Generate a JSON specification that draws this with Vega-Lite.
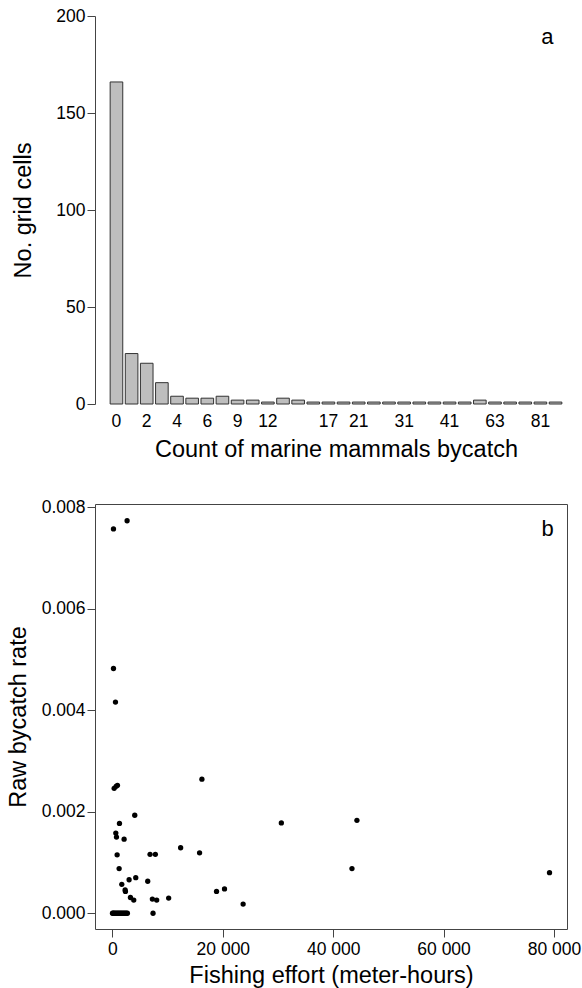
{
  "$schema": "https://vega.github.io/schema/vega-lite/v6.json",
  "background": "white",
  "padding": {"left": 5, "top": 7, "right": 0, "bottom": 0},
  "spacing": 36,
  "config": {
    "font": "Liberation Sans",
    "view": {"stroke": null},
    "axis": {
      "grid": false,
      "labelFont": "Liberation Sans",
      "titleFont": "Liberation Sans",
      "labelColor": "#000",
      "titleColor": "#000",
      "titleFontWeight": "normal",
      "labelFontSize": 17.5,
      "titleFontSize": 23.5,
      "domainColor": "#444",
      "tickColor": "#444",
      "domainWidth": 1,
      "tickWidth": 1
    }
  },
  "vconcat": [
    {
      "width": 482,
      "height": 388,
      "layer": [
        {
          "data": {
            "values": [
              {"count": 0, "cells": 166},
              {"count": 1, "cells": 26},
              {"count": 2, "cells": 21},
              {"count": 3, "cells": 11},
              {"count": 4, "cells": 4},
              {"count": 5, "cells": 3},
              {"count": 6, "cells": 3},
              {"count": 7, "cells": 4},
              {"count": 9, "cells": 2},
              {"count": 10, "cells": 2},
              {"count": 12, "cells": 1},
              {"count": 13, "cells": 3},
              {"count": 14, "cells": 2},
              {"count": 15, "cells": 1},
              {"count": 17, "cells": 1},
              {"count": 19, "cells": 1},
              {"count": 21, "cells": 1},
              {"count": 24, "cells": 1},
              {"count": 27, "cells": 1},
              {"count": 31, "cells": 1},
              {"count": 35, "cells": 1},
              {"count": 38, "cells": 1},
              {"count": 41, "cells": 1},
              {"count": 47, "cells": 1},
              {"count": 55, "cells": 2},
              {"count": 63, "cells": 1},
              {"count": 70, "cells": 1},
              {"count": 76, "cells": 1},
              {"count": 81, "cells": 1},
              {"count": 92, "cells": 1}
            ]
          },
          "mark": {"type": "bar", "fill": "#bebebe", "stroke": "#333", "strokeWidth": 1},
          "encoding": {
            "x": {
              "field": "count",
              "type": "ordinal",
              "scale": {"paddingInner": 0.1667, "paddingOuter": 1.224},
              "axis": {
                "values": [0, 2, 4, 6, 9, 12, 17, 21, 31, 41, 63, 81],
                "labelAngle": 0,
                "domain": false,
                "ticks": false,
                "tickSize": 0,
                "labelPadding": 8,
                "title": "Count of marine mammals bycatch",
                "titlePadding": 8
              }
            },
            "y": {
              "field": "cells",
              "type": "quantitative",
              "scale": {"domain": [0, 200], "nice": false},
              "axis": {
                "values": [0, 50, 100, 150, 200],
                "title": "No. grid cells",
                "tickSize": 8,
                "labelPadding": 2,
                "titlePadding": 20
              }
            }
          }
        },
        {
          "data": {"values": [{}]},
          "mark": {"type": "text", "text": "a", "fontSize": 22, "dx": 7, "color": "#000"},
          "encoding": {
            "x": {"datum": 81, "type": "ordinal"},
            "y": {"datum": 189, "type": "quantitative"}
          }
        }
      ]
    },
    {
      "width": 472,
      "height": 425,
      "view": {"stroke": "#444", "strokeWidth": 1},
      "layer": [
        {
          "data": {
            "values": [
              {"effort": 181, "rate": 0.00757},
              {"effort": 2650, "rate": 0.00773},
              {"effort": 181, "rate": 0.00482},
              {"effort": 542, "rate": 0.00416},
              {"effort": 301, "rate": 0.00246},
              {"effort": 660, "rate": 0.0025},
              {"effort": 900, "rate": 0.00252},
              {"effort": 1265, "rate": 0.00177},
              {"effort": 4036, "rate": 0.00193},
              {"effort": 16205, "rate": 0.00264},
              {"effort": 30600, "rate": 0.00178},
              {"effort": 44300, "rate": 0.00183},
              {"effort": 43400, "rate": 0.00088},
              {"effort": 79200, "rate": 0.0008},
              {"effort": 602, "rate": 0.00158},
              {"effort": 723, "rate": 0.0015},
              {"effort": 2108, "rate": 0.00146},
              {"effort": 843, "rate": 0.00115},
              {"effort": 6807, "rate": 0.00116},
              {"effort": 7771, "rate": 0.00116},
              {"effort": 12349, "rate": 0.00129},
              {"effort": 15783, "rate": 0.00119},
              {"effort": 1205, "rate": 0.00088},
              {"effort": 1687, "rate": 0.00057},
              {"effort": 2289, "rate": 0.00046},
              {"effort": 2350, "rate": 0.00043},
              {"effort": 3012, "rate": 0.00066},
              {"effort": 4217, "rate": 0.0007},
              {"effort": 6386, "rate": 0.00063},
              {"effort": 3253, "rate": 0.00031},
              {"effort": 3855, "rate": 0.00026},
              {"effort": 7229, "rate": 0.00028},
              {"effort": 8012, "rate": 0.00026},
              {"effort": 10181, "rate": 0.0003},
              {"effort": 18855, "rate": 0.00043},
              {"effort": 20301, "rate": 0.00048},
              {"effort": 23675, "rate": 0.00018},
              {"effort": 7349, "rate": 0},
              {"effort": 0, "rate": 0},
              {"effort": 150, "rate": 0},
              {"effort": 300, "rate": 0},
              {"effort": 500, "rate": 0},
              {"effort": 700, "rate": 0},
              {"effort": 900, "rate": 0},
              {"effort": 1100, "rate": 0},
              {"effort": 1300, "rate": 0},
              {"effort": 1500, "rate": 0},
              {"effort": 1700, "rate": 0},
              {"effort": 1900, "rate": 0},
              {"effort": 2100, "rate": 0},
              {"effort": 2300, "rate": 0},
              {"effort": 2500, "rate": 0},
              {"effort": 2700, "rate": 0}
            ]
          },
          "mark": {"type": "circle", "color": "#000", "opacity": 1, "size": 28},
          "encoding": {
            "x": {
              "field": "effort",
              "type": "quantitative",
              "scale": {"domain": [-3168, 82368], "nice": false, "zero": false},
              "axis": {
                "values": [0, 20000, 40000, 60000, 80000],
                "labelExpr": "replace(format(datum.value, ','), ',', ' ')",
                "domain": false,
                "tickSize": 8,
                "labelPadding": 3,
                "title": "Fishing effort (meter-hours)",
                "titlePadding": 6
              }
            },
            "y": {
              "field": "rate",
              "type": "quantitative",
              "scale": {"domain": [-0.00031, 0.00806], "nice": false, "zero": false},
              "axis": {
                "values": [0, 0.002, 0.004, 0.006, 0.008],
                "format": ".3f",
                "domain": false,
                "tickSize": 8,
                "labelPadding": 2,
                "title": "Raw bycatch rate",
                "titlePadding": 11
              }
            }
          }
        },
        {
          "data": {"values": [{}]},
          "mark": {"type": "text", "text": "b", "fontSize": 22, "color": "#000"},
          "encoding": {
            "x": {"datum": 78850, "type": "quantitative"},
            "y": {"datum": 0.00756, "type": "quantitative"}
          }
        }
      ]
    }
  ]
}
